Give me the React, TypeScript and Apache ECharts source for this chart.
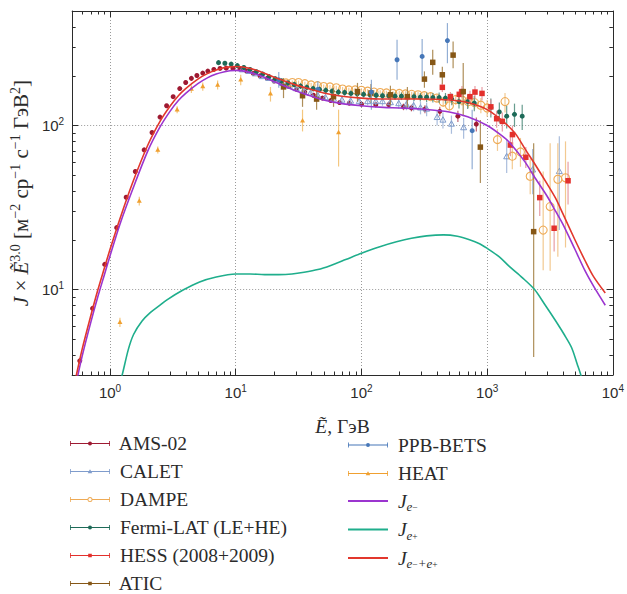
import React, { useEffect, useRef } from 'react';
import * as echarts from 'echarts';

// ---------- axis ranges & ticks ----------
const X_MIN = 0.5;
const X_MAX = 10000;
const Y_MIN = 3;
const Y_MAX = 500;
const X_MINOR = [0.6, 0.7, 0.8, 0.9, 2, 3, 4, 5, 6, 7, 8, 9, 20, 30, 40, 50, 60, 70, 80, 90,
  200, 300, 400, 500, 600, 700, 800, 900, 2000, 3000, 4000, 5000, 6000, 7000, 8000, 9000];
const Y_MINOR = [4, 5, 6, 7, 8, 9, 20, 30, 40, 50, 60, 70, 80, 90, 200, 300, 400];

// ---------- experimental data: [E, J, low, high] ----------
const AMS_02 = [
  [0.575, 3.66, 3.5, 3.8], [0.727, 7.65, 7.4, 7.9], [0.908, 14.2, 13.8, 14.6], [1.13, 23.8, 23.2, 24.4],
  [1.345, 36.5, 35.6, 37.4], [1.59, 52.4, 51.2, 53.6], [1.87, 71, 69.5, 72.5], [2.16, 90.6, 88.8, 92.4],
  [2.5, 112.6, 110.4, 114.8], [2.82, 132, 129.5, 134.5], [3.18, 150, 147, 153], [3.59, 168, 165, 171],
  [4.0, 183, 180, 186], [4.44, 194, 191, 197], [4.91, 202, 199, 205], [5.47, 209, 206, 212],
  [6.0, 215, 212, 218], [6.7, 220, 217, 223], [7.5, 223, 220, 226], [8.4, 224, 221, 227],
  [9.5, 223, 220, 226], [10.8, 221, 218, 224], [12.2, 215, 212, 218], [13.8, 208, 205, 211],
  [15.6, 201, 198, 204], [17.8, 194, 191, 197], [20.2, 187, 184, 190], [23, 180, 177, 183],
  [26.4, 173, 170, 176], [30.5, 166, 162, 170], [35.4, 160, 156, 164], [41.5, 153, 149, 157],
  [49, 147, 143, 151], [57, 142, 138, 146], [67, 138, 134, 142], [80, 137, 133, 141],
  [100, 135, 130, 140], [130, 134, 129, 139], [165, 134, 128, 140], [216, 130, 124, 136],
  [250, 128, 122, 134], [320, 126, 119, 133], [420, 122, 114, 130], [585, 114, 105, 123],
  [820, 102, 92, 112],
];
const CALET = [
  [11.3, 219, 214, 224], [12.8, 214, 209, 219], [14.3, 207, 202, 212], [16.2, 199, 194, 204],
  [18.3, 194, 189, 199], [20.7, 188, 183, 193], [23.5, 181, 176, 186], [26.7, 174, 169, 179],
  [30.3, 168, 163, 173], [34.5, 162, 157, 167], [39.3, 157, 152, 162], [45, 152, 147, 157],
  [51.7, 148, 143, 153], [60, 145, 140, 150], [70, 143, 138, 148], [82, 141, 135, 147],
  [96, 140, 134, 146], [112, 140, 133, 147], [130, 140, 133, 147], [147, 140, 132, 148],
  [170, 138, 130, 146], [198, 136, 127, 145], [228, 134, 124, 144], [260, 132, 122, 142],
  [295, 128, 117, 139], [330, 126, 114, 138], [400, 112, 100, 124], [445, 108, 96, 120],
  [520, 102, 89, 115], [650, 97, 83, 111], [1430, 64.5, 51.3, 81.7], [2300, 53.6, 38, 72],
  [3750, 52.4, 23, 86],
];
const DAMPE = [
  [25.1, 182, 177, 187], [28.2, 183, 178, 188], [31.6, 183, 178, 188], [35.5, 180, 175, 185],
  [39.8, 177, 172, 182], [44.7, 175, 170, 180], [50.1, 173, 168, 178], [56.2, 172, 167, 177],
  [63.1, 170, 165, 175], [70.8, 167, 162, 172], [79.4, 165, 160, 170], [89.1, 165, 160, 170],
  [100, 164, 159, 169], [112, 162, 157, 167], [126, 160, 155, 165], [141, 159, 154, 164],
  [158, 158, 153, 163], [178, 157, 152, 162], [200, 157, 151, 163], [224, 156, 150, 162],
  [251, 155, 149, 161], [282, 154, 147, 161], [316, 152, 145, 159], [355, 150, 142, 158],
  [398, 147, 139, 155], [447, 139, 130, 148], [501, 132, 123, 141], [562, 144, 134, 154],
  [631, 143, 132, 154], [708, 140, 128, 152], [794, 138, 125, 151], [891, 133, 119, 147],
  [1000, 128, 113, 143], [1208, 82, 70, 95], [1387, 140, 120, 158], [1585, 65, 54, 78],
  [1840, 69, 56, 84], [2200, 49, 38, 63], [2790, 23, 13.1, 52.4], [3170, 32, 13, 78],
  [3650, 47, 15.8, 78], [4200, 48, 18, 80],
];
const FERMI_LAT = [
  [7.3, 242, 235, 249], [8.2, 240, 233, 247], [9.2, 237, 230, 244], [10.3, 232, 225, 239],
  [11.6, 226, 219, 233], [13, 220, 213, 227], [14.6, 213, 206, 220], [16.4, 206, 199, 213],
  [18.4, 199, 192, 206], [20.6, 193, 186, 200], [23.2, 187, 180, 194], [26, 182, 175, 189],
  [29.2, 178, 171, 185], [32.8, 174, 167, 181], [36.8, 171, 164, 178], [41.3, 168, 161, 175],
  [46.4, 166, 159, 173], [52, 164, 157, 171], [58.4, 162, 155, 169], [65.5, 160, 153, 167],
  [73.5, 159, 152, 166], [82.5, 157, 150, 164], [92.6, 156, 149, 163], [104, 155, 148, 162],
  [117, 154, 147, 161], [131, 153, 146, 160], [147, 152, 145, 159], [165, 152, 144, 160],
  [185, 151, 143, 159], [208, 151, 143, 159], [233, 150, 141, 159], [262, 150, 141, 159],
  [294, 149, 140, 158], [330, 149, 139, 159], [370, 148, 138, 158], [415, 148, 137, 159],
  [466, 147, 136, 158], [523, 145, 133, 157], [597, 140, 127, 153], [700, 140, 126, 154],
  [790, 137, 122, 152], [1070, 129, 112, 146], [1250, 121, 104, 138], [1430, 114, 96, 132],
  [1650, 117, 98, 136], [1900, 114, 94, 134],
];
const HESS = [
  [440, 171, 160, 182], [510, 150, 140, 160], [600, 155, 144, 166], [630, 161, 148, 174],
  [730, 150, 137, 163], [800, 160, 146, 174], [910, 157, 142, 172], [1070, 130, 116, 144],
  [1190, 110, 97, 123], [1320, 106, 92, 120], [1530, 76, 65, 88], [1590, 88, 76, 100],
  [2030, 64, 55, 74], [2620, 36.3, 28, 46], [3410, 23.6, 17, 31], [4400, 46, 33, 60],
];
const ATIC = [
  [24, 172, 147, 195], [34, 152, 130, 174], [44, 145, 125, 165], [60, 150, 130, 170],
  [93, 161, 140, 182], [119, 158, 137, 179], [170, 154, 133, 175], [232, 150, 128, 172],
  [317, 192, 170, 214], [369, 243, 204, 290], [440, 204, 180, 228], [536, 269, 224, 326],
  [645, 161, 114, 241], [883, 73.8, 44.6, 108], [2344, 22.5, 3.86, 78],
];
const PPB_BETS = [
  [22, 190, 170, 212], [45, 166, 148, 186], [120, 160, 125, 190], [192, 252, 190, 334],
  [304, 264, 199, 337], [483, 330, 240, 422], [760, 93, 54, 125],
];
const HEAT = [
  [1.2, 6.3, 5.9, 6.7], [1.71, 34.6, 32.5, 36.8], [2.4, 71, 67.5, 74.5], [3.42, 125, 119, 131],
  [4.44, 167, 158, 176], [5.47, 173, 163, 183], [7.18, 177, 166, 188], [10.96, 190, 176, 204],
  [18.9, 156, 140, 172], [34, 107, 92, 125], [65.8, 90.6, 56.2, 125],
];

// ---------- model curves: [E, J] ----------
const J_E_MINUS = [
  [0.545, 2.8], [0.6, 3.9], [0.7, 6.2], [0.8, 9.0], [0.9, 12.2], [1.0, 16], [1.2, 25], [1.5, 40],
  [2.0, 70], [2.5, 98], [3.0, 122], [3.5, 142], [4.0, 157], [5.0, 180], [6.0, 196], [7.0, 206],
  [8.0, 212], [9.0, 216], [10, 217], [12, 214], [15, 204], [20, 186], [25, 173], [30, 163],
  [40, 151], [50, 143], [70, 136], [100, 132], [150, 129], [200, 128], [300, 126], [500, 121],
  [700, 113], [1000, 100], [1300, 87], [1500, 79], [2000, 60], [2400, 48], [3000, 37],
  [3500, 30], [4000, 25], [5000, 17.5], [6000, 13], [7000, 10.5], [8700, 8.0],
];
const J_E_PLUS = [
  [1.15, 2.4], [1.25, 3.0], [1.4, 4.3], [1.54, 5.3], [1.8, 6.4], [2.09, 7.2], [2.5, 8.0],
  [2.82, 8.6], [3.81, 9.9], [5.16, 11.1], [7, 11.9], [10, 12.4], [13, 12.4], [17, 12.3],
  [22, 12.3], [28, 12.4], [35, 12.7], [45, 13.2], [57, 14.0], [75, 15.2], [100, 16.6],
  [140, 18.2], [190, 19.5], [250, 20.5], [330, 21.2], [450, 21.5], [580, 21.1], [724, 20.1],
  [870, 19.0], [1000, 17.8], [1250, 15.8], [1500, 13.8], [1900, 11.8], [2375, 10], [2900, 8.0],
  [3470, 6.5], [4100, 5.3], [4700, 4.4], [5200, 3.5], [5560, 3.0], [6500, 2.0],
];
const J_TOTAL = [
  [0.53, 2.8], [0.6, 4.3], [0.7, 6.8], [0.8, 9.9], [0.9, 13.4], [1.0, 17.5], [1.2, 27], [1.5, 44],
  [2.0, 76], [2.5, 106], [3.0, 131], [3.5, 152], [4.0, 168], [5.0, 192], [6.0, 208], [7.0, 218],
  [8.0, 225], [9.0, 228], [10, 229], [12, 226], [15, 216], [20, 198], [25, 186], [30, 177],
  [40, 166], [50, 158], [70, 151], [100, 147], [150, 145], [200, 145], [300, 145], [500, 143],
  [700, 138], [1000, 125], [1300, 108], [1500, 98], [1700, 88], [2000, 72], [2400, 58],
  [3000, 44], [3500, 36], [4000, 29], [5000, 20], [6000, 15], [7000, 12], [8700, 9.5],
];

// ---------- styling ----------
const SERIF = "'Liberation Serif', 'DejaVu Serif', serif";
const SANS = "'Liberation Sans', 'DejaVu Sans', sans-serif";
const INK = '#2b2b2b';

type Shape = 'dot' | 'ring' | 'square' | 'tri' | 'otri';

const ICONS: Record<Shape, string> = {
  dot: 'path://M0,0h0.8v5h-0.8z M39.2,0h0.8v5h-0.8z M0,2h40v1h-40z M20,0.5a2,2 0 1,1 0,4a2,2 0 1,1 0,-4z',
  ring: 'path://M0,0h0.8v5h-0.8z M39.2,0h0.8v5h-0.8z M0,2h17.6v1h-17.6z M22.4,2h17.6v1h-17.6z M20,0a2.5,2.5 0 1,1 0,5a2.5,2.5 0 1,1 0,-5z M20,0.9a1.6,1.6 0 1,0 0,3.2a1.6,1.6 0 1,0 0,-3.2z',
  square: 'path://M0,0h0.8v5h-0.8z M39.2,0h0.8v5h-0.8z M0,2h40v1h-40z M18.2,0.7h3.6v3.6h-3.6z',
  tri: 'path://M0,0h0.8v5h-0.8z M39.2,0h0.8v5h-0.8z M0,2h40v1h-40z M20,0.3L22.3,4.3L17.7,4.3z',
  otri: 'path://M0,0h0.8v5h-0.8z M39.2,0h0.8v5h-0.8z M0,2h40v1h-40z M20,0.3L22.3,4.3L17.7,4.3z',
};

function marker(shape: Shape, x: number, y: number, s: number, color: string) {
  switch (shape) {
    case 'dot':
      return { type: 'circle', shape: { cx: x, cy: y, r: s / 2 }, style: { fill: color } };
    case 'ring':
      return { type: 'circle', shape: { cx: x, cy: y, r: s / 2 }, style: { fill: 'none', stroke: color, lineWidth: 1.1 } };
    case 'square':
      return { type: 'rect', shape: { x: x - s / 2, y: y - s / 2, width: s, height: s }, style: { fill: color } };
    case 'tri':
      return { type: 'polygon', shape: { points: [[x, y - s * 0.55], [x + s / 2, y + s * 0.35], [x - s / 2, y + s * 0.35]] }, style: { fill: color } };
    default:
      return { type: 'polygon', shape: { points: [[x, y - s * 0.55], [x + s / 2, y + s * 0.35], [x - s / 2, y + s * 0.35]] }, style: { fill: 'none', stroke: color, lineWidth: 1 } };
  }
}

interface Exp { name: string; data: number[][]; color: string; bar: string; shape: Shape; size: number }

const EXPERIMENTS: Exp[] = [
  { name: 'AMS-02', data: AMS_02, color: '#9e1a32', bar: '#b54a5c', shape: 'dot', size: 5 },
  { name: 'CALET', data: CALET, color: '#7f9ccc', bar: '#9bb1d6', shape: 'otri', size: 6 },
  { name: 'DAMPE', data: DAMPE, color: '#eeaa55', bar: '#f0c07e', shape: 'ring', size: 8 },
  { name: 'Fermi-LAT (LE+HE)', data: FERMI_LAT, color: '#1d6a58', bar: '#4f8c7c', shape: 'dot', size: 5 },
  { name: 'HESS (2008+2009)', data: HESS, color: '#e3302c', bar: '#e48c94', shape: 'square', size: 5.5 },
  { name: 'ATIC', data: ATIC, color: '#865716', bar: '#a07a3c', shape: 'square', size: 5.5 },
  { name: 'PPB-BETS', data: PPB_BETS, color: '#4677b8', bar: '#7fa0cc', shape: 'dot', size: 5 },
  { name: 'HEAT', data: HEAT, color: '#f0a030', bar: '#f2bd6a', shape: 'tri', size: 5 },
];

const MODELS = [
  { name: 'J_e-', data: J_E_MINUS, color: '#9b35cf' },
  { name: 'J_e+', data: J_E_PLUS, color: '#1fae8c' },
  { name: 'J_e-+e+', data: J_TOTAL, color: '#e2372d' },
];

function powLabel(v: number) {
  const e = Math.log10(v);
  const r = Math.round(e);
  if (Math.abs(e - r) > 1e-6) return '';
  return `{b|10}{s|${r}}`;
}

const tickRich = {
  b: { fontSize: 15, fontFamily: SANS, color: INK, lineHeight: 18 },
  s: { fontSize: 10, fontFamily: SANS, color: INK, lineHeight: 7, verticalAlign: 'top' },
};

const legendRich = {
  r: { fontFamily: SERIF, fontSize: 19.5, color: INK, lineHeight: 24 },
  i: { fontFamily: SERIF, fontStyle: 'italic', fontSize: 19.5, color: INK, lineHeight: 24 },
  sb: { fontFamily: SERIF, fontStyle: 'italic', fontSize: 13, color: INK, lineHeight: 10, verticalAlign: 'bottom' },
  ss: { fontFamily: SERIF, fontSize: 9.5, color: INK, lineHeight: 19, verticalAlign: 'bottom' },
};

function legendLabel(name: string) {
  if (name === 'J_e-') return '{r| }{i|J}{sb|e}{ss|−}';
  if (name === 'J_e+') return '{r| }{i|J}{sb|e}{ss|+}';
  if (name === 'J_e-+e+') return '{r| }{i|J}{sb|e}{ss|−}{sb|+e}{ss|+}';
  return ' ' + name;
}

function buildOption() {
  const axisLineStyle = { color: INK, width: 1 };
  const expSeries = EXPERIMENTS.map((ex) => ({
    type: 'custom',
    name: ex.name,
    coordinateSystem: 'cartesian2d',
    clip: true,
    z: 2,
    itemStyle: { color: ex.color },
    encode: { x: 0, y: 1 },
    data: ex.data,
    renderItem: (params: any, api: any) => {
      const e = api.value(0);
      const p = api.coord([e, api.value(1)]);
      const lo = api.coord([e, api.value(2)]);
      const hi = api.coord([e, api.value(3)]);
      return {
        type: 'group',
        children: [
          { type: 'line', shape: { x1: p[0], y1: lo[1], x2: p[0], y2: hi[1] }, style: { stroke: ex.bar, lineWidth: 1.2, opacity: 0.85 } },
          marker(ex.shape, p[0], p[1], ex.size, ex.color),
        ],
      };
    },
  }));

  const modelSeries = MODELS.map((m) => ({
    type: 'line',
    name: m.name,
    data: m.data,
    symbol: 'none',
    showSymbol: false,
    smooth: 0.3,
    z: 5,
    clip: true,
    lineStyle: { color: m.color, width: 1.6 },
    itemStyle: { color: m.color },
  }));

  const minorX = {
    type: 'custom',
    name: 'minorX',
    coordinateSystem: 'cartesian2d',
    silent: true,
    z: 6,
    encode: { x: 0, y: 1 },
    data: X_MINOR.map((v) => [v, Y_MIN]),
    renderItem: (params: any, api: any) => {
      const cs = params.coordSys;
      const x = Math.round(api.coord([api.value(0), Y_MIN])[0]) + 0.5;
      const st = { stroke: INK, lineWidth: 1 };
      return {
        type: 'group',
        children: [
          { type: 'line', shape: { x1: x, y1: cs.y + cs.height, x2: x, y2: cs.y + cs.height - 3.5 }, style: st },
          { type: 'line', shape: { x1: x, y1: cs.y, x2: x, y2: cs.y + 3.5 }, style: st },
        ],
      };
    },
  };
  const minorY = {
    type: 'custom',
    name: 'minorY',
    coordinateSystem: 'cartesian2d',
    silent: true,
    z: 6,
    encode: { x: 0, y: 1 },
    data: Y_MINOR.map((v) => [X_MIN, v]),
    renderItem: (params: any, api: any) => {
      const cs = params.coordSys;
      const y = Math.round(api.coord([X_MIN, api.value(1)])[1]) + 0.5;
      const st = { stroke: INK, lineWidth: 1 };
      return {
        type: 'group',
        children: [
          { type: 'line', shape: { x1: cs.x, y1: y, x2: cs.x + 3.5, y2: y }, style: st },
          { type: 'line', shape: { x1: cs.x + cs.width, y1: y, x2: cs.x + cs.width - 3.5, y2: y }, style: st },
        ],
      };
    },
  };

  const legendCommon = {
    orient: 'vertical',
    padding: 0,
    itemWidth: 40,
    itemHeight: 5,
    itemGap: 4.5,
    height: 240,
    selectedMode: false,
    formatter: legendLabel,
    textStyle: { fontFamily: SERIF, fontSize: 19.5, color: INK, lineHeight: 24, rich: legendRich },
  };

  const iconOf = (name: string) => {
    const ex = EXPERIMENTS.find((e) => e.name === name)!;
    return { name, icon: ICONS[ex.shape] };
  };

  return {
    animation: false,
    backgroundColor: '#ffffff',
    grid: { left: 71, right: 9, top: 11, bottom: 219 },
    xAxis: [
      {
        type: 'log', logBase: 10, min: X_MIN, max: X_MAX, position: 'bottom',
        name: '{i|Ẽ}{r|, ГэВ}', nameLocation: 'middle', nameGap: 41,
        nameTextStyle: {
          rich: {
            i: { fontFamily: SERIF, fontStyle: 'italic', fontSize: 19.5, color: INK },
            r: { fontFamily: SERIF, fontSize: 19.5, color: INK },
          },
        },
        axisLine: { show: true, lineStyle: axisLineStyle },
        axisTick: { show: true, inside: true, length: 6, lineStyle: axisLineStyle },
        axisLabel: { margin: 8, formatter: powLabel, rich: tickRich, showMinLabel: false },
        splitLine: { show: true, lineStyle: { color: '#9a9a9a', type: [1, 2], width: 1 } },
        minorTick: { show: false },
      },
      {
        type: 'log', logBase: 10, min: X_MIN, max: X_MAX, position: 'top',
        axisLine: { show: true, lineStyle: axisLineStyle },
        axisTick: { show: true, inside: true, length: 6, lineStyle: axisLineStyle },
        axisLabel: { show: false },
        splitLine: { show: false },
      },
    ],
    yAxis: [
      {
        type: 'log', logBase: 10, min: Y_MIN, max: Y_MAX, position: 'left',
        name: '{i|J}{r| × }{i|Ẽ}{p|3.0}{r| [м}{p|−2}{r| ср}{p|−1}{r| с}{p|−1}{r| ГэВ}{p|2}{r|]}',
        nameLocation: 'middle', nameGap: 33,
        nameTextStyle: {
          rich: {
            i: { fontFamily: SERIF, fontStyle: 'italic', fontSize: 21, color: INK, lineHeight: 25 },
            r: { fontFamily: SERIF, fontSize: 21, color: INK, lineHeight: 25 },
            p: { fontFamily: SERIF, fontSize: 14, color: INK, lineHeight: 12, verticalAlign: 'top' },
          },
        },
        axisLine: { show: true, lineStyle: axisLineStyle },
        axisTick: { show: true, inside: true, length: 6, lineStyle: axisLineStyle },
        axisLabel: { margin: 8, formatter: powLabel, rich: tickRich, showMinLabel: false, showMaxLabel: false },
        splitLine: { show: true, lineStyle: { color: '#9a9a9a', type: [1, 2], width: 1 } },
      },
      {
        type: 'log', logBase: 10, min: Y_MIN, max: Y_MAX, position: 'right',
        axisLine: { show: true, lineStyle: axisLineStyle },
        axisTick: { show: true, inside: true, length: 6, lineStyle: axisLineStyle },
        axisLabel: { show: false },
        splitLine: { show: false },
      },
    ],
    legend: [
      {
        ...legendCommon,
        left: 70,
        top: 433.5,
        itemGap: 8,
        textStyle: { ...legendCommon.textStyle, lineHeight: 20 },
        data: ['AMS-02', 'CALET', 'DAMPE', 'Fermi-LAT (LE+HE)', 'HESS (2008+2009)', 'ATIC'].map(iconOf),
      },
      {
        ...legendCommon,
        left: 348,
        top: 433,
        data: [iconOf('PPB-BETS'), iconOf('HEAT')],
      },
      {
        ...legendCommon,
        left: 348,
        top: 489,
        itemHeight: 2,
        data: MODELS.map((m) => ({ name: m.name, icon: 'rect' })),
      },
    ],
    series: [...expSeries, ...modelSeries, minorX, minorY],
  };
}

export default function App() {
  const ref = useRef<HTMLDivElement>(null);
  useEffect(() => {
    if (!ref.current) return;
    const chart = echarts.init(ref.current, null, { renderer: 'svg' });
    chart.setOption(buildOption() as any);
    return () => chart.dispose();
  }, []);
  return (
    <div
      ref={ref}
      style={{ position: 'absolute', left: 0, top: 0, width: 627, height: 594, background: '#ffffff' }}
    />
  );
}
